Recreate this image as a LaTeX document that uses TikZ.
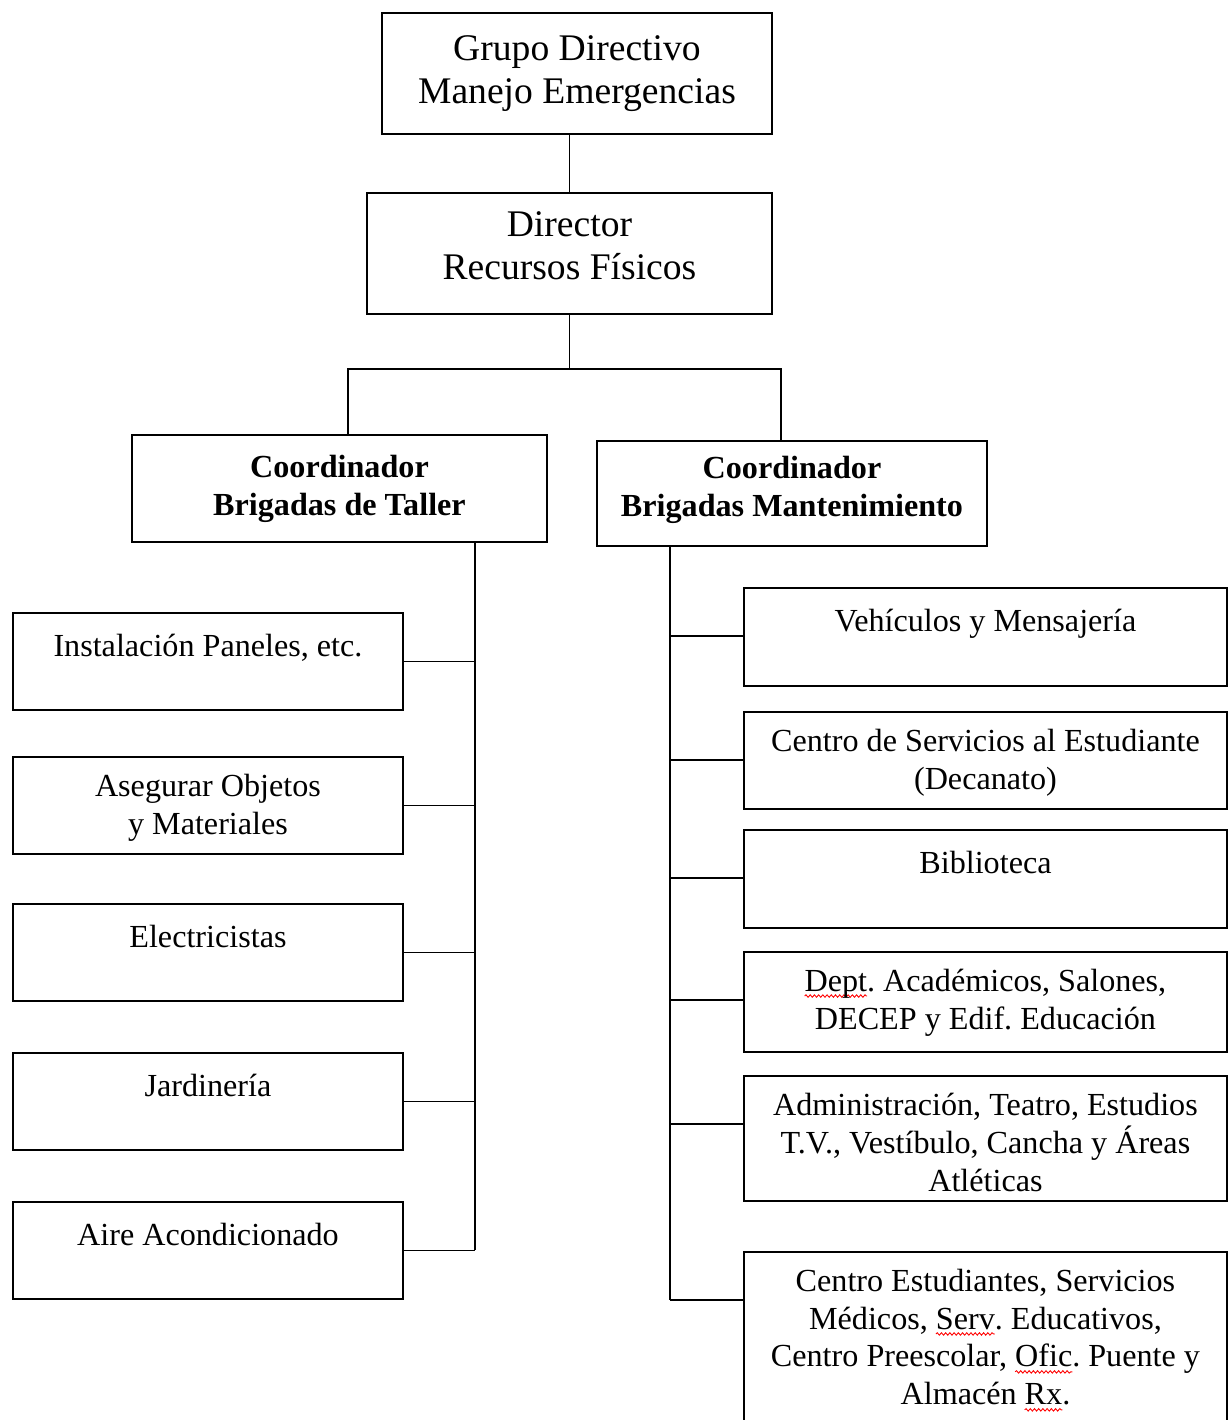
\documentclass[tikz,border=0pt]{standalone}
\usepackage{fontspec}
\setmainfont{Liberation Serif}
\frenchspacing
\usetikzlibrary{decorations.pathmorphing}
\def \linew {1.1pt}
\def \unit {0.02cm}
\def \leftx {12}
\def \leftw {390}
\def \rightx {743}
\def \rightw {483}
\def \textdrop {17.4}
\def \branchdrop {49}
% red wavy mark of the spell checker
\newsavebox\spellbox
\newlength\spelllen
\newcommand\spellmark[1]{\sbox\spellbox{#1}\setlength\spelllen{\wd\spellbox}%
\tikz[overlay, baseline=0pt]\draw[red, line width=0.5pt, decorate, decoration={snake, amplitude=0.7pt, segment length=2.4pt}] (0pt,-2.8pt) -- (\spelllen,-2.8pt);%
\usebox\spellbox}
\tikzset{
  orgbox/.style={draw, line width=\linew, inner sep=0pt, anchor=north west, align=center},
  headfont/.style={font=\fontsize{21.4}{24.5}\selectfont},
  coordfont/.style={font=\fontsize{18.3}{21.6}\selectfont\bfseries},
  leaftext/.style={font=\fontsize{18.3}{21.6}\selectfont, align=center, anchor=north, inner sep=0pt, execute at begin node=\strut},
  wire/.style={line width=\linew}
}

\begin{document}
\begin{tikzpicture}[x=\unit, y=-\unit]
\useasboundingbox (0,0) rectangle (1228,1420);
\clip (0,0) rectangle (1228,1420);

% Draw the upper boxes
\node[orgbox, headfont, minimum width=390*\unit, minimum height=121*\unit] (grupo) at (381,12) {Grupo Directivo\\Manejo Emergencias};
\node[orgbox, headfont, minimum width=405*\unit, minimum height=121*\unit, text depth=0.3cm] (dir) at (366,192) {Director\\Recursos Físicos};
\node[orgbox, coordfont, minimum width=415*\unit, minimum height=107*\unit] (ct) at (131,434) {Coordinador\\Brigadas de Taller};
\node[orgbox, coordfont, minimum width=390*\unit, minimum height=105*\unit, text depth=0.3cm] (cm) at (596,440) {Coordinador\\Brigadas Mantenimiento};

\coordinate (busl) at (348,369);
\coordinate (busr) at (781,369);
\coordinate (ltrunk) at (475,541);
\coordinate (rtrunk) at (670,545);

% Draw the lines between the upper boxes
\draw[wire] (dir.north) -- (dir.north |- grupo.south);
\draw[wire] (dir.south) -- (dir.south |- busl);
\draw[wire] (busl |- ct.north) -- (busl) -- (busr) -- (busr |- cm.north);

% Draw the workshop brigades
\foreach \i/\top/\txt in {
  1/612/{Instalación Paneles, etc.},
  2/756/{Asegurar Objetos\\y Materiales},
  3/903/{Electricistas},
  4/1052/{Jardinería},
  5/1201/{Aire Acondicionado}}
{
\node[orgbox, minimum width=\leftw*\unit, minimum height=97*\unit] (l\i) at (\leftx,\top) {};
\node[leaftext] (lt\i) at ([yshift=-\textdrop*\unit]l\i.north) {\txt};
\draw[wire] (l\i.east) -- (l\i.east -| ltrunk);
}
\draw[wire] (ltrunk) -- (ltrunk |- l5.east);

% Draw the maintenance brigades
\foreach \i/\top/\h/\txt in {
  1/587/98/{Vehículos y Mensajería},
  2/711/97/{Centro de Servicios al Estudiante\\(Decanato)},
  3/829/98/{Biblioteca},
  4/951/100/{\spellmark{Dept}. Académicos, Salones,\\DECEP y Edif. Educación},
  5/1075/125/{Administración, Teatro, Estudios\\T.V., Vestíbulo, Cancha y Áreas\\Atléticas},
  6/1251/200/{Centro Estudiantes, Servicios\\Médicos, \spellmark{Serv}. Educativos,\\Centro Preescolar, \spellmark{Ofic}. Puente y\\Almacén \spellmark{Rx}.}}
{
\node[orgbox, minimum width=\rightw*\unit, minimum height=\h*\unit] (r\i) at (\rightx,\top) {};
\node[leaftext] (rt\i) at ([yshift=-\textdrop*\unit]r\i.north) {\txt};
\coordinate (rb\i) at ([yshift=-\branchdrop*\unit]r\i.north west);
\draw[wire] (rb\i) -- (rb\i -| rtrunk);
}
\draw[wire] (rtrunk) -- (rtrunk |- rb6);
\end{tikzpicture}
\end{document}
